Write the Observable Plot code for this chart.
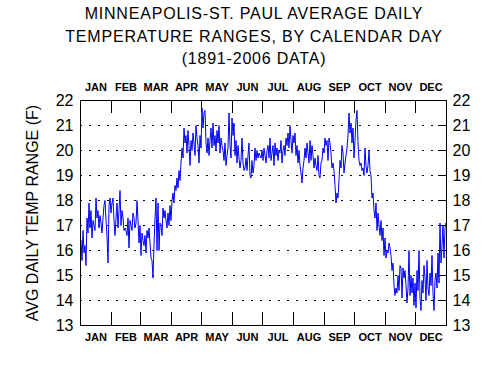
<!DOCTYPE html>
<html>
<head>
<meta charset="utf-8">
<script src="https://cdn.jsdelivr.net/npm/d3@7"></script>
<script src="https://cdn.jsdelivr.net/npm/@observablehq/plot@0.6"></script>
<style>
  html, body { margin: 0; padding: 0; background: #fff; overflow: hidden; }
  #wrap { position: relative; width: 500px; height: 368px; }
  #title { position: absolute; left: 4px; top: 3px; width: 500px; text-align: center;
    font-family: "Liberation Sans", Arial, sans-serif; font-size: 16px; line-height: 22.5px;
    letter-spacing: 0.8px; color: #000; }
  #chart { position: absolute; left: 0; top: 0; }
</style>
</head>
<body>
<div id="wrap">
  <div id="chart"></div>
  <div id="title">MINNEAPOLIS-ST. PAUL AVERAGE DAILY<br>TEMPERATURE RANGES, BY CALENDAR DAY<br>(1891-2006 DATA)</div>
</div>
<script>
// Average daily temperature range (F) by calendar day
const jan = [16.4, 15.6, 16.8, 15.9, 16.2, 15.4, 17.3, 16.7, 17.9, 16.9, 17.6, 16.5, 17.2, 17.0, 16.8, 18.1, 17.3, 17.6, 16.9, 17.4, 17.1, 16.7, 17.3, 17.8, 18.0, 17.2, 16.6, 15.5, 17.8, 18.1, 17.5];
const feb = [17.9, 18.1, 17.2, 16.6, 17.3, 17.9, 16.9, 17.6, 18.4, 17.0, 17.6, 17.3, 16.8, 16.9, 16.8, 16.6, 17.3, 16.1, 17.2, 17.0, 16.8, 17.5, 17.3, 16.9, 17.1, 18.0, 17.2, 16.3, 17.0];
const mar = [15.8, 16.7, 16.4, 16.2, 16.6, 15.9, 16.8, 16.5, 16.9, 16.3, 15.7, 15.6, 14.9, 16.2, 17.3, 18.1, 16.0, 17.9, 16.0, 17.1, 17.0, 16.6, 17.7, 17.3, 17.6, 17.2, 16.9, 17.5, 17.0, 17.8, 17.2];
const apr = [18.0, 18.3, 17.9, 18.6, 18.4, 18.9, 18.5, 19.2, 18.8, 19.5, 20.1, 19.7, 20.9, 20.3, 20.6, 19.9, 20.8, 20.2, 19.4, 20.4, 20.0, 20.7, 20.3, 19.8, 21.0, 20.5, 20.2, 19.5, 20.6, 20.1];
const may = [21.7, 20.9, 21.5, 21.6, 20.3, 19.9, 20.5, 19.8, 20.4, 20.9, 20.1, 21.1, 20.2, 20.6, 20.0, 20.8, 20.3, 21.0, 19.9, 20.5, 20.2, 20.0, 19.6, 20.3, 19.4, 19.8, 20.1, 21.5, 20.2, 19.7, 21.3];
const jun = [20.6, 21.1, 19.8, 20.4, 19.5, 20.2, 19.7, 19.3, 19.6, 20.5, 19.5, 19.2, 19.3, 19.7, 19.2, 19.8, 20.3, 19.0, 18.9, 19.6, 19.1, 19.4, 20.1, 19.6, 20.0, 19.7, 19.9, 19.8, 19.7, 20.0];
const jul = [19.6, 20.1, 19.8, 19.5, 20.0, 20.2, 19.7, 20.5, 19.6, 19.9, 20.2, 19.4, 20.3, 19.8, 20.1, 19.6, 20.0, 19.9, 20.4, 19.5, 20.0, 20.2, 19.8, 20.5, 20.2, 20.7, 20.1, 21.0, 20.4, 19.9, 20.6];
const aug = [20.3, 20.7, 19.8, 20.2, 19.5, 20.0, 19.4, 19.1, 18.7, 19.3, 19.6, 20.1, 19.7, 20.3, 19.9, 19.5, 20.4, 19.6, 20.2, 19.8, 19.3, 19.7, 19.4, 19.2, 19.8, 19.0, 18.9, 19.5, 19.6, 20.1, 19.9];
const sep = [20.5, 20.2, 20.4, 19.6, 20.5, 20.3, 19.9, 19.3, 19.5, 19.2, 18.6, 17.9, 18.3, 18.1, 18.8, 19.6, 19.3, 20.2, 19.9, 19.1, 19.5, 19.8, 20.1, 20.6, 21.5, 20.7, 21.1, 20.3, 20.9, 19.7];
const oct = [20.4, 21.2, 21.6, 20.3, 19.6, 19.4, 19.5, 19.2, 19.3, 19.0, 20.1, 19.4, 19.1, 19.4, 20.0, 19.2, 19.0, 18.1, 18.3, 17.6, 17.3, 17.9, 16.8, 17.5, 17.0, 16.6, 17.2, 16.4, 16.9, 15.8, 16.5];
const nov = [15.7, 16.0, 15.9, 16.3, 16.1, 15.8, 15.2, 15.5, 14.6, 14.2, 14.5, 14.3, 15.0, 14.4, 15.4, 15.3, 14.1, 15.3, 14.9, 15.2, 14.6, 13.9, 14.5, 16.0, 14.2, 15.0, 14.3, 14.9, 13.8, 14.7];
const dec = [13.7, 15.2, 14.4, 16.0, 14.1, 13.6, 14.8, 14.3, 15.4, 14.9, 14.0, 15.6, 14.5, 14.2, 15.1, 14.6, 15.8, 14.3, 13.6, 14.8, 15.1, 14.5, 15.9, 14.7, 17.1, 15.5, 16.2, 17.0, 15.7, 16.9, 17.1];

const monthNames = ["JAN","FEB","MAR","APR","MAY","JUN","JUL","AUG","SEP","OCT","NOV","DEC"];
const monthSeries = [jan, feb, mar, apr, may, jun, jul, aug, sep, oct, nov, dec];
const yTicks = [13, 14, 15, 16, 17, 18, 19, 20, 21, 22];
const gridValues = [14, 15, 16, 17, 18, 19, 20, 21];

// build tables
const values = monthSeries.flat();
const data = values.map((v, i) => ({day: i + 0.5, range: v}));
const starts = [];
let acc = 0;
for (const m of monthSeries) { starts.push(acc); acc += m.length; }
const total = acc;
const boundaries = starts.slice(1);
const mids = monthSeries.map((m, i) => starts[i] + m.length / 2);
const nameByMid = new Map(mids.map((m, i) => [m, monthNames[i]]));

const font = "'Liberation Sans', Arial, sans-serif";

const chart = Plot.plot({
  width: 500,
  height: 368,
  marginTop: 100,
  marginBottom: 43,
  marginLeft: 80,
  marginRight: 54,
  style: {fontFamily: font, color: "#000", background: "#fff", overflow: "visible"},
  x: {domain: [0, total]},
  y: {domain: [13, 22]},
  marks: [
    Plot.ruleY(gridValues, {stroke: "#000", strokeWidth: 1, strokeDasharray: "2,7"}),
    Plot.ruleY(gridValues, {x1: total - 8, x2: total, stroke: "#000", strokeWidth: 1}),
    Plot.ruleX(boundaries, {y1: 13, y2: 13.52, stroke: "#000", strokeWidth: 1}),
    Plot.ruleX(boundaries, {y1: 21.48, y2: 22, stroke: "#000", strokeWidth: 1}),
    Plot.lineY(data, {x: "day", y: "range", stroke: "#0000ff", strokeWidth: 1}),
    Plot.frame({stroke: "#000", strokeWidth: 1}),
    Plot.axisX(mids, {anchor: "bottom", tickSize: 0, tickPadding: 8, tickFormat: d => nameByMid.get(d),
      fontSize: 11, fontWeight: "bold", label: null}),
    Plot.axisX(mids, {anchor: "top", tickSize: 0, tickPadding: 10, tickFormat: d => nameByMid.get(d),
      fontSize: 11, fontWeight: "bold", label: null}),
    Plot.axisY(yTicks, {anchor: "left", tickSize: 0, tickPadding: 7, fontSize: 16, label: null}),
    Plot.axisY(yTicks, {anchor: "right", tickSize: 0, tickPadding: 6, fontSize: 16, label: null}),
    Plot.text(["AVG DAILY TEMP RANGE (F)"], {frameAnchor: "left", rotate: -90, dx: -48,
      fontSize: 16, fill: "#000", textAnchor: "middle", lineAnchor: "middle"})
  ]
});
document.getElementById("chart").appendChild(chart);
</script>
</body>
</html>
